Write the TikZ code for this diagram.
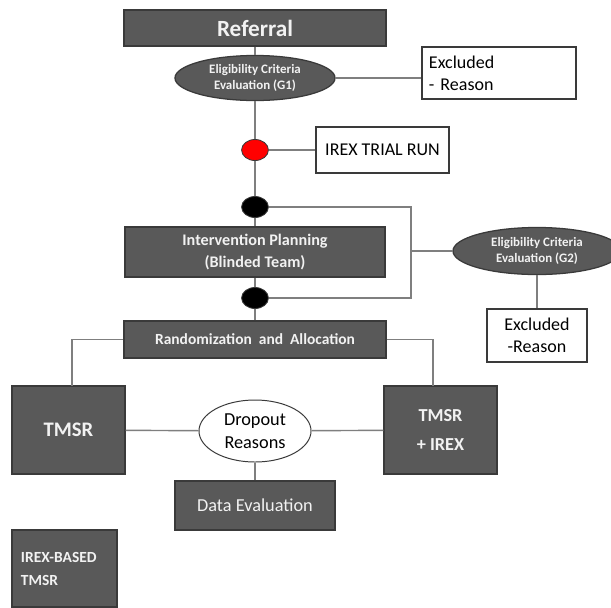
\documentclass[tikz,border=0pt]{standalone}
\usepackage{fontspec}
\setmainfont{Carlito}
\usetikzlibrary{shapes.geometric}
\definecolor{boxGray}{HTML}{595959}
\definecolor{edgeGray}{HTML}{3A3A3A}
\definecolor{lineGray}{HTML}{7F7F7F}
\definecolor{textLight}{HTML}{F2F2F2}

\begin{document}
\begin{tikzpicture}
[x=0.025cm,y=-0.025cm,
  lineDecorate/.style={-,draw=lineGray,line width=1pt},%
  darkBoxDecorate/.style={shape=rectangle,fill=boxGray,draw=edgeGray,line width=0.9pt,text=textLight,inner sep=0pt,align=center},%
  whiteBoxDecorate/.style={shape=rectangle,fill=white,draw=edgeGray,line width=0.9pt,inner sep=0pt,align=center},%
  darkOvalDecorate/.style={shape=ellipse,fill=boxGray,draw=edgeGray,line width=0.9pt,text=textLight,inner sep=0pt,align=center,font=\bfseries\fontsize{9.2}{11.5}\selectfont},%
  dotDecorate/.style={shape=ellipse,inner sep=0pt,minimum width=0.67cm,minimum height=0.525cm,draw=edgeGray,line width=0.6pt}]
\clip (0,0) rectangle (611,607);
\fill[white] (0,0) rectangle (611,607);

%% main column
\node (referral) at (255,28) [darkBoxDecorate,minimum width=6.55cm,minimum height=0.9cm,font=\bfseries\fontsize{16.5}{20}\selectfont] {Referral};
\node (g1) at (255,78) [darkOvalDecorate,minimum width=4cm,minimum height=1.125cm] {Eligibility Criteria\\Evaluation (G1)};
\node (excludedOne) at (499,73) [whiteBoxDecorate,minimum width=3.85cm,minimum height=1.3cm,text width=3.5cm,align=left,font=\fontsize{12.8}{15.6}\selectfont] {Excluded\\- Reason};
\node (trial) at (382.5,150) [whiteBoxDecorate,minimum width=3.325cm,minimum height=1.15cm,font=\fontsize{12.8}{14}\selectfont] {IREX TRIAL RUN};
\node (plan) at (255,252) [darkBoxDecorate,minimum width=6.5cm,minimum height=1.25cm,font=\bfseries\fontsize{11.5}{15}\selectfont] {Intervention Planning\\(Blinded Team)};
\node (random) at (255,339.5) [darkBoxDecorate,minimum width=6.55cm,minimum height=0.925cm,font=\bfseries\fontsize{11}{13}\selectfont] {Randomization\ \ and\ \ Allocation};
\node (g2) at (537,251) [darkOvalDecorate,minimum width=4.2cm,minimum height=1.175cm] {Eligibility Criteria\\Evaluation (G2)};
\node (excludedTwo) at (537,335.5) [whiteBoxDecorate,minimum width=2.5cm,minimum height=1.325cm,font=\fontsize{12.8}{15.6}\selectfont] {Excluded\\-Reason};

%% arms
\node (tmsr) at (68.5,430) [darkBoxDecorate,minimum width=2.825cm,minimum height=2.2cm,font=\bfseries\fontsize{14.7}{18}\selectfont] {TMSR};
\node (combo) at (440.5,430) [darkBoxDecorate,minimum width=2.825cm,minimum height=2.2cm,font=\bfseries\fontsize{13}{20}\selectfont] {TMSR\\+ IREX};
\node (dropout) at (255,431) [shape=ellipse,draw=edgeGray,line width=0.7pt,fill=white,inner sep=0pt,align=center,minimum width=2.8cm,minimum height=1.55cm,font=\fontsize{13}{16}\selectfont] {Dropout\\Reasons};
\node (dataEval) at (255,505.5) [darkBoxDecorate,minimum width=4cm,minimum height=1.225cm,font=\fontsize{13}{15}\selectfont] {Data Evaluation};
\node (legend) at (64.5,568.5) [darkBoxDecorate,minimum width=2.625cm,minimum height=1.925cm,text width=2.175cm,align=left,font=\bfseries\fontsize{11}{16.4}\selectfont] {IREX-BASED\\TMSR};

%% dots
\foreach \nodename/\y/\col in {redDot/150/red, topDot/207/black, lowDot/298/black}
{
  \node (\nodename) at (255,\y) [dotDecorate,fill=\col] {};
}

%% edges or lines
\path
\foreach \startnode/\endnode in {referral/g1, g1/redDot, redDot/topDot, topDot/plan, plan/lowDot, lowDot/random, redDot/trial, tmsr/dropout, dropout/combo, dropout/dataEval, g2/excludedTwo}
{
  (\startnode) edge[lineDecorate] (\endnode)
};
\draw[lineDecorate] (g1.east) -- (g1.east -| excludedOne.west);
\coordinate (bendTop) at (411,207);
\coordinate (bendLow) at (411,298);
\draw[lineDecorate] (topDot) -- (bendTop) -- (bendLow) -- (lowDot);
\draw[lineDecorate] (g2) -- (g2 -| bendTop);
\coordinate (tmsrTop) at (72,386);
\coordinate (comboTop) at (433,386);
\draw[lineDecorate] (random.west) -| (tmsrTop);
\draw[lineDecorate] (random.east) -| (comboTop);
\end{tikzpicture}
\end{document}
